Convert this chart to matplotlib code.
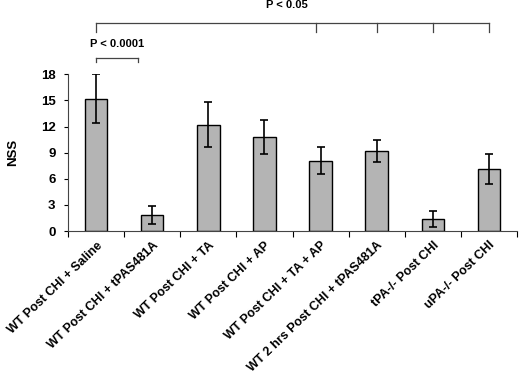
import matplotlib
matplotlib.use('Agg')
import matplotlib.pyplot as plt
import numpy as np

# data
groups = ['WT Post CHI + Saline', 'WT Post CHI + tPAS481A', 'WT Post CHI + TA',
          'WT Post CHI + AP', 'WT Post CHI + TA + AP', 'WT 2 hrs Post CHI + tPAS481A',
          'tPA-/- Post CHI', 'uPA-/- Post CHI']
nss = [15.2, 1.85, 12.2, 10.8, 8.1, 9.2, 1.4, 7.1]
err = [2.8, 1.05, 2.6, 2.0, 1.6, 1.25, 0.93, 1.7]
yticks = [0, 3, 6, 9, 12, 15, 18]

plt.rcParams['font.family'] = ['Liberation Sans', 'DejaVu Sans']
plt.rcParams['font.weight'] = 'bold'

fig = plt.figure(figsize=(5.2, 3.8), dpi=100)
ax = fig.add_axes([0.131, 0.392, 0.863, 0.4125])

x = np.arange(len(groups))
ax.bar(x, nss, width=0.4, color='#b4b4b4', edgecolor='black', linewidth=1.0,
       yerr=err, capsize=3, error_kw=dict(elinewidth=1.2, capthick=1.2, ecolor='black'))

ax.set_xlim(-0.5, len(groups) - 0.5)
ax.set_ylim(0, 18)
ax.set_yticks(yticks)
ax.set_yticklabels([str(v) for v in yticks], fontsize=9.5, fontweight='bold')
ax.tick_params(axis='y', direction='out', length=3, width=0.8, pad=6)

# category boundary ticks, labels centred
ax.set_xticks(np.arange(len(groups) + 1) - 0.5)
ax.set_xticklabels([])
ax.set_xticks(x, minor=True)
ax.set_xticklabels(groups, minor=True, rotation=44, ha='right', rotation_mode='anchor',
                   fontsize=9, fontweight='bold')
ax.tick_params(axis='x', which='major', direction='out', length=4, width=0.8)
ax.tick_params(axis='x', which='minor', length=0, pad=6)

for s in ['top', 'right']:
    ax.spines[s].set_visible(False)
ax.spines['left'].set_color('#444444')
ax.spines['bottom'].set_color('#444444')

ax.set_ylabel('NSS', fontsize=9.5, fontweight='bold', labelpad=16)

# significance brackets
k = dict(color='#444444', lw=0.9, clip_on=False)
ax.plot([0, 7], [23.9, 23.9], **k)
for i in [0, 3.92, 5, 6, 7]:
    ax.plot([i, i], [23.9, 22.9], **k)
ax.text(3.4, 25.9, 'P < 0.05', ha='center', va='center', fontsize=8, fontweight='bold')

ax.plot([0.0, 0.75], [19.9, 19.9], **k)
ax.plot([0.0, 0.0], [19.9, 19.4], **k)
ax.plot([0.75, 0.75], [19.9, 19.4], **k)
ax.text(0.38, 21.5, 'P < 0.0001', ha='center', va='center', fontsize=8, fontweight='bold')

fig.savefig('out.png', dpi=100)
